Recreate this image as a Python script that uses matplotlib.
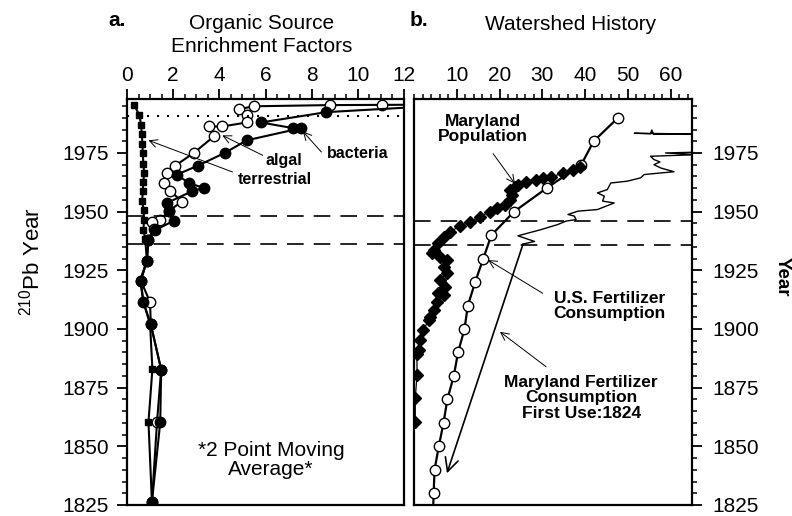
import matplotlib.pyplot as plt
from matplotlib.ticker import MultipleLocator

plt.rcParams['font.family'] = ['Liberation Sans', 'DejaVu Sans']
plt.rcParams['mathtext.default'] = 'regular'

# ---- panel a: organic source enrichment factors (2 point moving average) ----
terr_year = [1995.5, 1991.0, 1987.0, 1983.0, 1979.0, 1975.0, 1970.5, 1966.5, 1962.5,
             1958.7, 1954.5, 1950.5, 1946.5, 1942.3, 1938.3, 1929.2, 1920.7, 1911.6,
             1902.0, 1882.8, 1860.4, 1826.3]
terr_val = [0.31, 0.54, 0.61, 0.64, 0.67, 0.68, 0.71, 0.74, 0.71, 0.68, 0.66, 0.72,
            0.74, 0.71, 0.79, 0.86, 0.57, 0.71, 1.00, 1.10, 0.93, 1.08]

bact_year = [1996.5, 1992.4, 1988.0, 1985.6, 1985.6, 1980.4, 1975.0, 1969.6, 1965.8,
             1962.2, 1960.1, 1958.7, 1953.7, 1950.2, 1946.1, 1942.1, 1937.9, 1929.1,
             1920.6, 1911.4, 1902.0, 1882.7, 1860.3, 1826.3]
bact_val = [16.0, 8.64, 5.80, 7.19, 7.55, 5.19, 4.23, 3.07, 2.17, 2.67, 3.33, 2.82,
            1.73, 1.80, 2.02, 1.22, 0.93, 0.86, 0.60, 0.71, 1.03, 1.48, 1.44, 1.08]

alg_year = [1995.7, 1995.5, 1995.4, 1994.9, 1993.7, 1991.3, 1988.0, 1986.3, 1986.3,
            1982.1, 1975.0, 1969.6, 1966.5, 1962.2, 1958.7, 1954.3, 1950.3, 1946.4,
            1945.8, 1942.4, 1938.0, 1929.1, 1920.6, 1911.4, 1902.0, 1882.7, 1860.3,
            1826.3]
alg_val = [16.0, 11.04, 8.78, 5.51, 4.86, 5.22, 5.19, 4.13, 3.55, 3.77, 2.89, 2.09,
           1.73, 1.59, 1.88, 2.39, 1.80, 1.44, 1.07, 1.15, 0.93, 0.86, 0.60, 1.00,
           1.03, 1.48, 1.30, 1.08]

dotted_year = 1990.7
dashed_a = [1948.2, 1936.1]

# ---- panel b: watershed history ----
pop_year = [1860.5, 1870.5, 1880.4, 1889.3, 1891.0, 1895.3, 1899.5, 1903.8, 1905.2,
            1908.1, 1911.6, 1914.5, 1915.2, 1918.0, 1920.9, 1923.7, 1926.5, 1929.4,
            1930.8, 1932.2, 1933.6, 1936.5, 1939.3, 1941.4, 1943.9, 1945.7, 1947.8,
            1950.0, 1951.4, 1952.8, 1954.9, 1957.1, 1959.2, 1960.6, 1961.3, 1962.7,
            1963.4, 1964.2, 1964.9, 1966.3, 1967.7, 1969.1]
pop_val = [0.3, 0.3, 0.7, 0.7, 1.1, 1.5, 2.2, 3.4, 3.8, 4.6, 5.3, 6.9, 5.7, 7.3, 6.1,
           7.7, 6.9, 7.7, 6.1, 4.2, 4.6, 5.7, 6.9, 8.4, 10.8, 13.1, 15.4, 17.7, 19.3,
           21.2, 22.4, 22.8, 22.4, 23.6, 24.3, 26.3, 28.6, 30.1, 32.1, 34.8, 37.1, 38.7]

us_year = [1820, 1830, 1840, 1850, 1860, 1870, 1880, 1890, 1900, 1910, 1920, 1930,
           1940, 1950, 1960, 1970, 1980, 1990]
us_val = [4.4, 4.6, 4.8, 5.8, 6.9, 7.8, 9.3, 10.3, 11.8, 12.6, 14.3, 16.2, 18.1,
          23.4, 31.0, 39.1, 42.0, 47.7]

md_year = [1936.2, 1937.3, 1939.7, 1942.4, 1944.5, 1946.0, 1946.6, 1948.1, 1948.8,
           1950.2, 1950.9, 1953.7, 1954.5, 1956.6, 1958.0, 1959.4, 1962.2, 1963.0,
           1964.4, 1965.8, 1966.5, 1967.0, 1968.6, 1970.0, 1971.2, 1972.2, 1973.6,
           1974.3, 1975.0, 1975.4, 1979.0, 1983.0, 1983.4, 1983.2, 1984.8, 1983.0,
           1982.9]
md_val = [25.5, 28.2, 24.3, 29.8, 33.6, 35.6, 37.9, 37.5, 36.0, 38.3, 42.9, 46.8,
          44.1, 44.5, 42.9, 45.2, 46.0, 49.9, 53.0, 53.8, 57.7, 60.8, 57.7, 56.1,
          57.5, 56.1, 55.3, 66.5, 58.8, 67.0, 75.0, 70.0, 51.5, 55.3, 55.6, 56.0,
          70.0]

dashed_b = [1945.9, 1935.6]

W, H = 792, 516
fig = plt.figure(figsize=(W / 100, H / 100), dpi=100)
ax1 = fig.add_axes([127 / W, 1 - 505 / H, 277 / W, 406 / H])
ax2 = fig.add_axes([414 / W, 1 - 505 / H, 278 / W, 406 / H])

for ax in (ax1, ax2):
    for s in ax.spines.values():
        s.set_linewidth(1.6)
    ax.set_ylim(1825, 1998)
    ax.yaxis.set_major_locator(MultipleLocator(25))
    ax.yaxis.set_minor_locator(MultipleLocator(5))
    ax.xaxis.tick_top()
    ax.tick_params(axis='both', which='major', length=7, width=1.3,
                   labelsize=15, direction='out')
    ax.tick_params(axis='both', which='minor', length=3.5, width=1.1,
                   direction='out')
    ax.tick_params(axis='x', which='both', bottom=False, top=True,
                   labelbottom=False, labeltop=True, pad=3)

# panel a
ax1.set_xlim(0, 12)
ax1.xaxis.set_major_locator(MultipleLocator(2))
ax1.xaxis.set_minor_locator(MultipleLocator(0.5))
ax1.tick_params(axis='y', which='both', left=True, right=False, pad=6)

ax1.plot(terr_val, terr_year, color='black', lw=1.5, marker='s', ms=5,
         mfc='black', mec='black')
ax1.plot(alg_val, alg_year, color='black', lw=1.5, marker='o', ms=7.5,
         mfc='white', mec='black', mew=1)
ax1.plot(bact_val, bact_year, color='black', lw=1.5, marker='o', ms=7.5,
         mfc='black', mec='black')

ax1.axhline(dotted_year, color='black', lw=1.5, dashes=(1, 3.8))
for y in dashed_a:
    ax1.axhline(y, color='black', lw=1.2, dashes=(10, 6))

arrow_small = dict(arrowstyle='->', lw=0.7, color='black', shrinkA=0, shrinkB=0,
                   mutation_scale=14)
ax1.annotate('', xy=(4.13, 1982.5), xytext=(5.88, 1974.0), arrowprops=arrow_small)
ax1.annotate('', xy=(7.62, 1984.2), xytext=(8.42, 1975.4), arrowprops=arrow_small)
ax1.annotate('', xy=(0.93, 1980.4), xytext=(4.57, 1966.9), arrowprops=arrow_small)
ax1.text(6.81, 1972.0, 'algal', fontsize=11.5, fontweight='bold', ha='center', va='center')
ax1.text(9.99, 1974.6, 'bacteria', fontsize=11.5, fontweight='bold', ha='center', va='center')
ax1.text(6.41, 1963.5, 'terrestrial', fontsize=11.5, fontweight='bold', ha='center', va='center')
ax1.text(6.24, 1844.2, '*2 Point Moving\nAverage*', fontsize=15, ha='center',
         va='center', linespacing=1.05)

# panel b
ax2.set_xlim(0, 65)
ax2.set_xticks([10, 20, 30, 40, 50, 60])
ax2.xaxis.set_minor_locator(MultipleLocator(2))
ax2.yaxis.tick_right()
ax2.tick_params(axis='y', which='both', left=False, right=True,
                labelleft=False, labelright=True, pad=8)

ax2.plot(md_val, md_year, color='black', lw=1.0)
ax2.plot(us_val, us_year, color='black', lw=1.6, marker='o', ms=7.5,
         mfc='white', mec='black', mew=1)
ax2.plot(pop_val, pop_year, color='black', lw=0.9, marker='D', ms=6.5,
         mfc='black', mec='black')

for y in dashed_b:
    ax2.axhline(y, color='black', lw=1.2, dashes=(10, 6))

ax2.annotate('', xy=(7.7, 1838.5), xytext=(25.5, 1936.2),
             arrowprops=dict(arrowstyle='->', lw=1.2, color='black', shrinkA=0,
                             shrinkB=0, mutation_scale=24))
ax2.annotate('', xy=(23.6, 1961.9), xytext=(18.5, 1974.7), arrowprops=arrow_small)
ax2.annotate('', xy=(17.3, 1929.4), xytext=(30.1, 1915.2), arrowprops=arrow_small)
ax2.annotate('', xy=(20.1, 1898.8), xytext=(30.9, 1883.9), arrowprops=arrow_small)

ax2.text(16.2, 1985.3, 'Maryland\nPopulation', fontsize=12.5, fontweight='bold',
         ha='center', va='center', linespacing=1.05)
ax2.text(45.7, 1909.8, 'U.S. Fertilizer\nConsumption', fontsize=12.5,
         fontweight='bold', ha='center', va='center', linespacing=1.05)
ax2.text(39.1, 1870.6, 'Maryland Fertilizer\nConsumption\nFirst Use:1824',
         fontsize=12.5, fontweight='bold', ha='center', va='center', linespacing=1.05)

# axis titles and panel headings
fig.text(32 / W, 1 - 262 / H, '$^{210}$Pb Year', fontsize=16, rotation=90,
         ha='center', va='center')
fig.text(782 / W, 1 - 277 / H, 'Year', fontsize=13.5, fontweight='bold',
         rotation=270, ha='center', va='center')
fig.text(117 / W, 1 - 20 / H, 'a.', fontsize=15, fontweight='bold', ha='center', va='center')
fig.text(262 / W, 1 - 35 / H, 'Organic Source\nEnrichment Factors', fontsize=15,
         ha='center', va='center', linespacing=1.3)
fig.text(419 / W, 1 - 21 / H, 'b.', fontsize=15, fontweight='bold', ha='center', va='center')
fig.text(571 / W, 1 - 24 / H, 'Watershed History', fontsize=15, ha='center', va='center')

fig.savefig('out.png', dpi=100)
